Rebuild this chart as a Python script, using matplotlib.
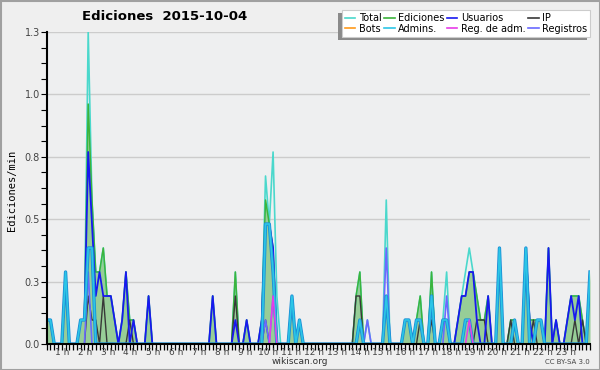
import numpy as np
import matplotlib
matplotlib.use('Agg')
import matplotlib.pyplot as plt
import matplotlib.transforms as mtransforms
import matplotlib.patheffects as pe
from matplotlib.patches import Rectangle
from matplotlib.lines import Line2D

# counts per 10 minute slot, 00:00 .. 24:00 (one row per hour)
total = [
    1, 1, 0, 0, 0, 3,
    0, 0, 0, 1, 1, 13,
    6, 3, 3, 4, 2, 2,
    1, 0, 1, 3, 1, 1,
    0, 0, 0, 2, 0, 0,
    0, 0, 0, 0, 0, 0,
    0, 0, 0, 0, 0, 0,
    0, 0, 2, 0, 0, 0,
    0, 0, 3, 0, 0, 1,
    0, 0, 0, 1, 7, 5,
    8, 2, 0, 0, 0, 2,
    0, 1, 0, 0, 0, 0,
    0, 0, 0, 0, 0, 0,
    0, 0, 0, 0, 2, 3,
    0, 1, 0, 0, 0, 0,
    6, 0, 0, 0, 0, 1,
    1, 0, 1, 2, 0, 0,
    3, 0, 0, 1, 3, 0,
    0, 1, 2, 3, 4, 3,
    2, 1, 1, 2, 0, 0,
    4, 0, 0, 1, 1, 0,
    0, 4, 1, 1, 1, 1,
    0, 4, 0, 1, 0, 0,
    1, 2, 2, 2, 1, 0,
    3]

edits = [
    1, 1, 0, 0, 0, 3,
    0, 0, 0, 1, 1, 10,
    6, 3, 3, 4, 2, 2,
    1, 0, 1, 3, 1, 1,
    0, 0, 0, 2, 0, 0,
    0, 0, 0, 0, 0, 0,
    0, 0, 0, 0, 0, 0,
    0, 0, 2, 0, 0, 0,
    0, 0, 3, 0, 0, 1,
    0, 0, 0, 1, 6, 5,
    4, 0, 0, 0, 0, 2,
    0, 1, 0, 0, 0, 0,
    0, 0, 0, 0, 0, 0,
    0, 0, 0, 0, 2, 3,
    0, 0, 0, 0, 0, 0,
    2, 0, 0, 0, 0, 1,
    1, 0, 1, 2, 0, 0,
    3, 0, 0, 1, 1, 0,
    0, 1, 2, 2, 3, 3,
    2, 1, 1, 2, 0, 0,
    4, 0, 0, 1, 1, 0,
    0, 4, 1, 1, 1, 1,
    0, 4, 0, 1, 0, 0,
    1, 2, 2, 2, 1, 0,
    3]

users = [
    1, 1, 0, 0, 0, 3,
    0, 0, 0, 1, 1, 8,
    5, 2, 3, 2, 2, 2,
    1, 0, 1, 3, 0, 1,
    0, 0, 0, 2, 0, 0,
    0, 0, 0, 0, 0, 0,
    0, 0, 0, 0, 0, 0,
    0, 0, 2, 0, 0, 0,
    0, 0, 1, 0, 0, 1,
    0, 0, 0, 1, 5, 5,
    4, 0, 0, 0, 0, 2,
    0, 1, 0, 0, 0, 0,
    0, 0, 0, 0, 0, 0,
    0, 0, 0, 0, 0, 1,
    0, 0, 0, 0, 0, 0,
    2, 0, 0, 0, 0, 1,
    1, 0, 1, 1, 0, 0,
    2, 0, 0, 1, 1, 0,
    0, 1, 2, 2, 3, 3,
    1, 0, 0, 2, 0, 0,
    4, 0, 0, 0, 1, 0,
    0, 4, 1, 0, 1, 1,
    0, 4, 0, 1, 0, 0,
    1, 2, 1, 2, 0, 0,
    3]

ip = [
    0, 0, 0, 0, 0, 0,
    0, 0, 0, 0, 0, 2,
    1, 1, 0, 2, 0, 0,
    0, 0, 0, 0, 1, 0,
    0, 0, 0, 0, 0, 0,
    0, 0, 0, 0, 0, 0,
    0, 0, 0, 0, 0, 0,
    0, 0, 0, 0, 0, 0,
    0, 0, 2, 0, 0, 0,
    0, 0, 0, 0, 1, 0,
    0, 0, 0, 0, 0, 0,
    0, 0, 0, 0, 0, 0,
    0, 0, 0, 0, 0, 0,
    0, 0, 0, 0, 2, 2,
    0, 0, 0, 0, 0, 0,
    0, 0, 0, 0, 0, 0,
    0, 0, 0, 1, 0, 0,
    1, 0, 0, 0, 0, 0,
    0, 0, 0, 0, 0, 0,
    1, 1, 1, 0, 0, 0,
    0, 0, 0, 1, 0, 0,
    0, 0, 0, 1, 0, 0,
    0, 0, 0, 0, 0, 0,
    0, 0, 1, 0, 1, 0,
    0]

admins = [
    1, 1, 0, 0, 0, 3,
    0, 0, 0, 1, 1, 4,
    4, 0, 0, 0, 0, 0,
    0, 0, 0, 0, 0, 0,
    0, 0, 0, 0, 0, 0,
    0, 0, 0, 0, 0, 0,
    0, 0, 0, 0, 0, 0,
    0, 0, 0, 0, 0, 0,
    0, 0, 0, 0, 0, 0,
    0, 0, 0, 0, 5, 5,
    3, 0, 0, 0, 0, 2,
    0, 1, 0, 0, 0, 0,
    0, 0, 0, 0, 0, 0,
    0, 0, 0, 0, 0, 1,
    0, 0, 0, 0, 0, 0,
    2, 0, 0, 0, 0, 1,
    1, 0, 1, 1, 0, 0,
    2, 0, 0, 1, 1, 0,
    0, 0, 0, 1, 1, 0,
    0, 0, 0, 0, 0, 0,
    4, 0, 0, 0, 1, 0,
    0, 4, 0, 0, 1, 1,
    0, 0, 0, 0, 0, 0,
    0, 0, 0, 0, 0, 0,
    3]

registros = [
    0, 0, 0, 0, 0, 0,
    0, 0, 0, 0, 0, 3,
    0, 0, 0, 0, 0, 0,
    0, 0, 0, 0, 0, 0,
    0, 0, 0, 0, 0, 0,
    0, 0, 0, 0, 0, 0,
    0, 0, 0, 0, 0, 0,
    0, 0, 0, 0, 0, 0,
    0, 0, 0, 0, 0, 0,
    0, 0, 0, 0, 1, 0,
    2, 0, 0, 0, 0, 0,
    0, 0, 0, 0, 0, 0,
    0, 0, 0, 0, 0, 0,
    0, 0, 0, 0, 0, 0,
    0, 1, 0, 0, 0, 0,
    4, 0, 0, 0, 0, 0,
    0, 0, 0, 0, 0, 0,
    0, 0, 0, 0, 2, 0,
    0, 0, 0, 0, 0, 0,
    0, 0, 0, 0, 0, 0,
    0, 0, 0, 0, 0, 0,
    0, 0, 0, 0, 0, 0,
    0, 0, 0, 0, 0, 0,
    0, 0, 0, 0, 0, 0,
    0]

reg_adm = [
    0, 0, 0, 0, 0, 0,
    0, 0, 0, 0, 0, 0,
    0, 0, 0, 0, 0, 0,
    0, 0, 0, 0, 0, 0,
    0, 0, 0, 0, 0, 0,
    0, 0, 0, 0, 0, 0,
    0, 0, 0, 0, 0, 0,
    0, 0, 0, 0, 0, 0,
    0, 0, 0, 0, 0, 0,
    0, 0, 0, 0, 0, 0,
    2, 0, 0, 0, 0, 0,
    0, 0, 0, 0, 0, 0,
    0, 0, 0, 0, 0, 0,
    0, 0, 0, 0, 0, 0,
    0, 0, 0, 0, 0, 0,
    0, 0, 0, 0, 0, 0,
    0, 0, 0, 0, 0, 0,
    0, 0, 0, 0, 0, 0,
    0, 0, 0, 0, 1, 0,
    0, 0, 0, 0, 0, 0,
    0, 0, 0, 0, 0, 0,
    0, 0, 0, 0, 0, 0,
    0, 0, 0, 0, 0, 0,
    0, 0, 0, 0, 0, 0,
    0]

# no bot edits that day
bots = [0] * len(total)

unit = 1.25 / 13  # one edit in a slot, expressed in edits/min on the chart
hour_labels = ['%d h' % h for h in range(1, 24)]
y_ticks = [0, 0.25, 0.5, 0.75, 1.0, 1.25]
y_labels = ['0.0', '0.3', '0.5', '0.8', '1.0', '1.3']

c_total = '#4ad8cc'
c_edits = '#3cb43c'
c_users = '#1818f0'
c_ip = '#383838'
c_bots = '#ff9a1a'
c_admins = '#2cc6e6'
c_regadm = '#e83ce8'
c_reg = '#6a6aff'

x = np.arange(len(total))
conv = lambda s: np.array(s) * unit

fig = plt.figure(figsize=(6, 3.7), dpi=100, facecolor='#efefef')
ax = fig.add_axes([46.7 / 600, 26 / 370, (590 - 46.7) / 600, 312 / 370])
ax.set_facecolor('#eeeff0')

ax.fill_between(x, 0, conv(edits), color='#97cd97', lw=0, zorder=1)
ax.plot(x, conv(total), color=c_total, lw=1.2, zorder=2)
ax.plot(x, conv(edits), color=c_edits, lw=1.1, zorder=3)
ax.plot(x, conv(ip), color=c_ip, lw=1.0, zorder=4)
ax.plot(x, conv(bots), color=c_bots, lw=1.0, zorder=3.5)
ax.plot(x, conv(users), color=c_users, lw=1.3, zorder=5)
ax.plot(x, conv(registros), color=c_reg, lw=1.2, zorder=5.5)
ax.plot(x, conv(admins), color=c_admins, lw=1.2, zorder=6,
        path_effects=[pe.Stroke(linewidth=2.4, foreground='#1b8fd6'), pe.Normal()])
ax.plot(x, conv(reg_adm), color=c_regadm, lw=1.1, zorder=7)

ax.set_xlim(0, len(total) - 1)
ax.set_ylim(0, 1.25)
for s in ['top', 'right']:
    ax.spines[s].set_visible(False)
for s in ['left', 'bottom']:
    ax.spines[s].set_linewidth(1.5)
    ax.spines[s].set_zorder(20)

ax.set_xticks(x)
ax.tick_params(axis='x', length=4, width=0.9, labelbottom=False)
ax.set_yticks(y_ticks)
ax.set_yticklabels(y_labels)
ax.set_yticks(np.arange(0, 1.26, 0.0625), minor=True)
ax.tick_params(axis='y', which='both', length=4, width=0.8, labelsize=7,
               labelcolor='#444444', pad=1)
ax.yaxis.grid(True, color='#cccccc', lw=1)
ax.set_axisbelow(True)

trans = mtransforms.blended_transform_factory(ax.transData, ax.transAxes)
for h, lab in enumerate(hour_labels, start=1):
    px = 39 + 22.9 * h
    ax.text((px - 46.7) / 3.773, -0.014, lab, transform=trans, ha='center',
            va='top', fontsize=6.5, color='#444444')

fig.text(165 / 600, 1 - 17 / 370, 'Ediciones  2015-10-04', ha='center',
         va='center', fontsize=9.5, fontweight='bold')
fig.text(12 / 600, 1 - 190 / 370, 'Ediciones/min', rotation=90, ha='center',
         va='center', fontsize=7.5, family='DejaVu Sans Mono')
fig.text(300 / 600, 1 - 362 / 370, 'wikiscan.org', ha='center', va='center',
         fontsize=6.5, color='#333333')
fig.text(590 / 600, 1 - 362 / 370, 'CC BY-SA 3.0', ha='right', va='center',
         fontsize=5, color='#444444')

fig.patches.append(Rectangle((0.5 / 600, 0.5 / 370), 599 / 600, 369 / 370,
                             transform=fig.transFigure, fill=False,
                             ec='#a0a0a0', lw=1.5))

handles = [Line2D([], [], color=c_total, lw=1.2),
           Line2D([], [], color=c_bots, lw=1.2),
           Line2D([], [], color=c_edits, lw=1.2),
           Line2D([], [], color=c_admins, lw=1.2),
           Line2D([], [], color=c_users, lw=1.2),
           Line2D([], [], color=c_regadm, lw=1.2),
           Line2D([], [], color=c_ip, lw=1.2),
           Line2D([], [], color=c_reg, lw=1.2)]
names = ['Total', 'Bots', 'Ediciones', 'Admins.', 'Usuarios', 'Reg. de adm.',
         'IP', 'Registros']
leg = fig.legend(handles, names, ncol=4, loc='upper right',
                 bbox_to_anchor=(590 / 600, 1 - 10 / 370), fontsize=7,
                 frameon=True, fancybox=False, handlelength=1.1,
                 handletextpad=0.35, columnspacing=0.25, borderpad=0.3,
                 labelspacing=0.1, borderaxespad=0)
leg.get_frame().set_edgecolor('#cccccc')
leg.get_frame().set_linewidth(0.8)
leg.get_frame().set_facecolor('white')
leg.get_frame().set_alpha(1)

# shadow behind the legend, offset down and to the left
fig.canvas.draw()
bb = leg.get_window_extent()
fig.patches.append(Rectangle((bb.x0 - 3.5, bb.y0 - 3.5), bb.width, bb.height,
                             transform=None, fc='#8a8a8a', ec='none', zorder=1))

fig.savefig('out.png', dpi=100, facecolor=fig.get_facecolor())
